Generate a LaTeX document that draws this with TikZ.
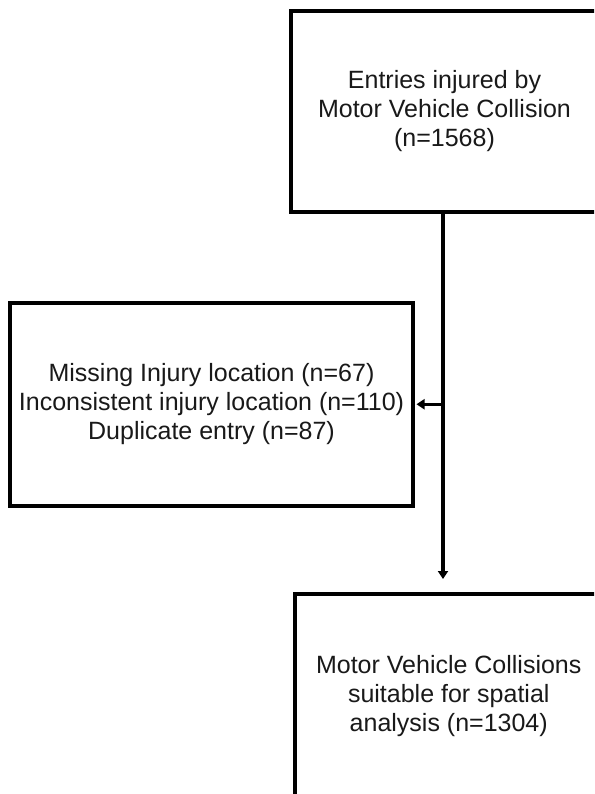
\documentclass[tikz,border=0pt]{standalone}
\usepackage{fontspec}
\setmainfont{Liberation Sans}
\usetikzlibrary{arrows.meta}
\tikzset{
  boxnode/.style={draw=black, line width=4pt, align=center, inner sep=0pt, outer sep=0pt,
    font=\fontsize{25pt}{29pt}\selectfont, text=black!90},
  arr/.style={line width=3.4pt, -{Triangle[length=8pt,width=10pt]}}
}
\begin{document}
\begin{tikzpicture}[x=1pt,y=-1pt]
\useasboundingbox (0,0) rectangle (594,794);
\clip (0,0) rectangle (594,794);
\fill[white] (0,0) rectangle (594,794);
\node[boxnode, minimum width=308pt, minimum height=200.5pt] (top) at (444.5,111.5)
  {Entries injured by\\Motor Vehicle Collision\\(n=1568)};
\node[boxnode, minimum width=403pt, minimum height=202.5pt] (left) at (211.5,404.25)
  {Missing Injury location (n=67)\\Inconsistent injury location (n=110)\\Duplicate entry (n=87)};
\node[boxnode, minimum width=308.5pt, minimum height=204pt] (bot) at (448.75,696)
  {Motor Vehicle Collisions\\suitable for spatial\\analysis (n=1304)};
\coordinate (j) at (443,0 |- left.east);
\coordinate (s) at (443,0 |- top.south);
\draw[arr, shorten >=15pt] (s) -- (s |- bot.north);
\draw[arr, shorten >=3.5pt] (j) -- (left.east);
\end{tikzpicture}
\end{document}
